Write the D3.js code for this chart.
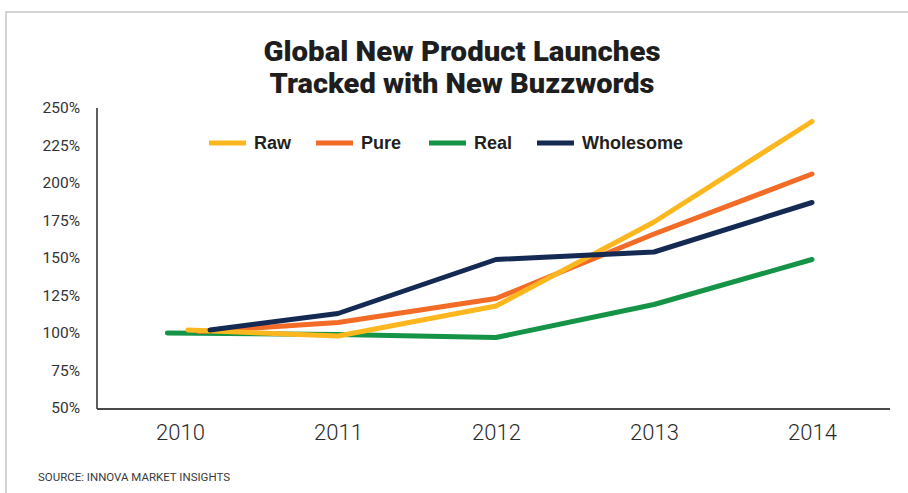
<!DOCTYPE html>
<html>
<head>
<meta charset="utf-8">
<script src="https://cdn.jsdelivr.net/npm/d3@7"></script>
<style>
  body { margin: 0; background: #fff; }
  svg { display: block; }
</style>
</head>
<body>
<div id="chart"></div>
<script>
// data
const years = [2010, 2011, 2012, 2013, 2014];
const yTicks = [50, 75, 100, 125, 150, 175, 200, 225, 250];
const seriesNames = ["Raw", "Pure", "Real", "Wholesome"];
const seriesColors = ["#fdb71e", "#f26b27", "#159447", "#142a53"];
// first point of each line is drawn slightly off the 2010 tick in the original
const startYears = [2010.05, 2010.12, 2009.92, 2010.19];
const rawValues = [102, 98, 118, 174, 241];
const pureValues = [101, 107, 123, 166, 206];
const realValues = [100, 99, 97, 119, 149];
const wholesomeValues = [102, 113, 149, 154, 187];
const allValues = [rawValues, pureValues, realValues, wholesomeValues];
const titleLines = ["Global New Product Launches", "Tracked with New Buzzwords"];
const sourceText = "SOURCE: INNOVA MARKET INSIGHTS";

const width = 908, height = 493;
const margin = {top: 108, right: 18, bottom: 85, left: 97};

const svg = d3.select("#chart").append("svg")
    .attr("width", width)
    .attr("height", height);

// frame
svg.append("path")
    .attr("d", `M6,${height} V12 H${width}`)
    .attr("fill", "none")
    .attr("stroke", "#c6c6c6")
    .attr("stroke-width", 1.5);

const x = d3.scaleLinear()
    .domain([2010, 2014])
    .range([180, 812]);

const y = d3.scaleLinear()
    .domain([50, 250])
    .range([height - margin.bottom, margin.top]);

// title - heavy condensed face, squeezed to the original width
const titleWidths = [397, 385];
svg.append("g")
    .attr("text-anchor", "middle")
    .style("font", "900 27px Roboto, sans-serif")
    .attr("fill", "#1e1e1e")
  .selectAll("text")
  .data(titleLines)
  .join("text")
    .attr("x", 462)
    .attr("y", (d, i) => 61 + i * 32)
    .attr("textLength", (d, i) => titleWidths[i])
    .attr("lengthAdjust", "spacingAndGlyphs")
    .text(d => d);

// y axis
const yAxis = svg.append("g")
    .attr("transform", `translate(${margin.left},0)`)
    .call(d3.axisLeft(y).tickValues(yTicks).tickSize(0).tickPadding(17).tickFormat(d => d + "%"));
yAxis.select(".domain")
    .attr("stroke", "#2a2a2a")
    .attr("stroke-width", 1.5)
    .attr("d", `M0,${y(250)}V${y(50) + 1}`);
yAxis.selectAll("text")
    .style("font", "15.5px Roboto, sans-serif")
    .attr("fill", "#333");

// x axis
const xAxis = svg.append("g")
    .attr("transform", `translate(0,${y(50) + 1})`)
    .call(d3.axisBottom(x).tickValues(years).tickSize(0).tickPadding(15).tickFormat(d3.format("d")));
xAxis.select(".domain")
    .attr("stroke", "#4a4a4a")
    .attr("stroke-width", 2)
    .attr("d", `M${margin.left},0H890`);
xAxis.selectAll("text")
    .style("font", "300 22px Roboto, sans-serif")
    .attr("fill", "#2a2a2a");

// lines (draw order: real, pure, raw, wholesome on top)
const line = d3.line()
    .x(d => x(d[0]))
    .y(d => y(d[1]));

const drawOrder = [2, 1, 0, 3];
svg.append("g")
    .attr("fill", "none")
    .attr("stroke-width", 5)
    .attr("stroke-linecap", "round")
    .attr("stroke-linejoin", "round")
  .selectAll("path")
  .data(drawOrder)
  .join("path")
    .attr("stroke", i => seriesColors[i])
    .attr("d", i => line(allValues[i].map((v, j) => [j === 0 ? startYears[i] : years[j], v])));

// legend
const legendX = [209, 316, 429, 537];
const legend = svg.append("g")
  .selectAll("g")
  .data(seriesNames)
  .join("g")
    .attr("transform", (d, i) => `translate(${legendX[i]},143)`);
legend.append("line")
    .attr("x1", 0).attr("x2", 37)
    .attr("stroke", (d, i) => seriesColors[i])
    .attr("stroke-width", 5);
legend.append("text")
    .attr("x", 45)
    .attr("dy", "0.35em")
    .style("font", "bold 18px 'Liberation Sans', Arial, sans-serif")
    .attr("fill", "#231f20")
    .text(d => d);

// source
svg.append("text")
    .attr("x", 38)
    .attr("y", 481)
    .attr("textLength", 192)
    .attr("lengthAdjust", "spacingAndGlyphs")
    .style("font", "11px Roboto, sans-serif")
    .attr("fill", "#3a3a3a")
    .text(sourceText);
</script>
</body>
</html>
